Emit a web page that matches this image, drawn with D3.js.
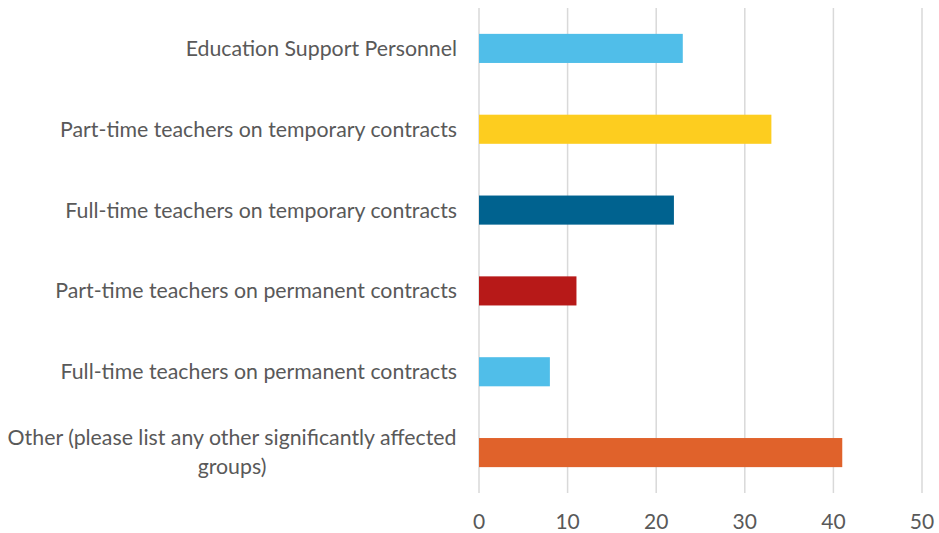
<!DOCTYPE html>
<html>
<head>
<meta charset="utf-8">
<script src="https://cdn.jsdelivr.net/npm/d3@7"></script>
<style>
  body { margin: 0; background: #fff; }
  text { font-family: Lato, "Open Sans", sans-serif; fill: #595959; }
</style>
</head>
<body>
<div id="viz"></div>
<script>
const width = 939,
    height = 533;

const categories = [
    "Education Support Personnel",
    "Part-time teachers on temporary contracts",
    "Full-time teachers on temporary contracts",
    "Part-time teachers on permanent contracts",
    "Full-time teachers on permanent contracts",
    "Other (please list any other significantly affected groups)"
];
const values = [23, 33, 22, 11, 8, 41];
const barColors = ["#50BEE9", "#FDCD1F", "#00628F", "#B71918", "#50BEE9", "#E0622B"];
const ticks = [0, 10, 20, 30, 40, 50];

// label lines (the last one wraps in the original)
const labelLines = [
    ["Education Support Personnel"],
    ["Part-time teachers on temporary contracts"],
    ["Full-time teachers on temporary contracts"],
    ["Part-time teachers on permanent contracts"],
    ["Full-time teachers on permanent contracts"],
    ["Other (please list any other significantly affected", "groups)"]
];

const margin = { top: 8, right: 17, bottom: 40, left: 479 };

const svg = d3.select('#viz').append("svg")
    .attr("width", width)
    .attr("height", height);

const x = d3.scaleLinear()
    .domain([0, 50])
    .range([margin.left, width - margin.right]);

const y = d3.scaleBand()
    .domain(categories)
    .range([margin.top, height - margin.bottom])
    .paddingInner(0.64)
    .paddingOuter(0.32);

// gridlines
svg.append("g")
    .selectAll("line")
    .data(ticks)
    .enter().append("line")
    .attr("x1", d => x(d))
    .attr("x2", d => x(d))
    .attr("y1", margin.top)
    .attr("y2", height - margin.bottom)
    .attr("stroke", "#D9D9D9")
    .attr("stroke-width", 1.5);

// bars
svg.append("g")
    .selectAll("rect")
    .data(values)
    .enter().append("rect")
    .attr("x", x(0))
    .attr("y", (d, i) => y(categories[i]))
    .attr("width", d => x(d) - x(0))
    .attr("height", y.bandwidth())
    .attr("fill", (d, i) => barColors[i]);

// tick labels
svg.append("g")
    .selectAll("text")
    .data(ticks)
    .enter().append("text")
    .attr("x", d => x(d))
    .attr("y", 529)
    .attr("text-anchor", "middle")
    .style("font-size", "21px")
    .text(d => d);

// category labels
const labels = svg.append("g")
    .selectAll("text")
    .data(categories)
    .enter().append("text")
    .style("font-size", "21.3px")
    .attr("y", d => y(d) + y.bandwidth() / 2);

labels.each(function (d, i) {
    const lines = labelLines[i];
    const t = d3.select(this);
    if (lines.length === 1) {
        t.attr("x", 457).attr("text-anchor", "end").attr("dy", "0.35em").text(lines[0]);
    } else {
        t.attr("text-anchor", "middle");
        lines.forEach((l, j) => {
            t.append("tspan")
                .attr("x", 232)
                .attr("dy", j === 0 ? "-0.35em" : "1.35em")
                .text(l);
        });
    }
});
</script>
</body>
</html>
